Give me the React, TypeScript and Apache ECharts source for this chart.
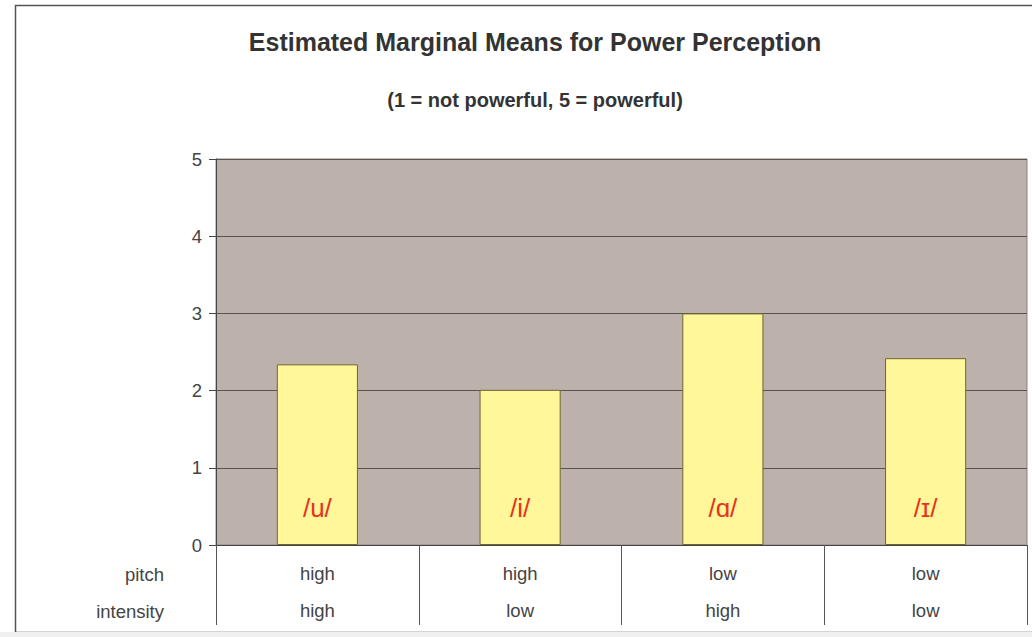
import React, { useEffect, useRef } from "react";
import * as echarts from "echarts";

const titleText = "Estimated Marginal Means for Power Perception";
const subtitleText = "(1 = not powerful, 5 = powerful)";
const vowels = ["/u/", "/i/", "/ɑ/", "/ɪ/"];
const meanValues = [2.34, 2.01, 3.0, 2.42];
const pitchRow = ["high", "high", "low", "low"];
const intensityRow = ["high", "low", "high", "low"];
const rowNames = ["pitch", "intensity"];
const yTicks = { min: 0, max: 5, interval: 1 };

const FONT = "'Liberation Sans', Arial, Helvetica, sans-serif";

export default function App() {
  const ref = useRef<HTMLDivElement>(null);
  useEffect(() => {
    if (!ref.current) return;
    const chart = echarts.init(ref.current, null, { renderer: "svg" });
    const gridLeft = 216;
    const gridTop = 159;
    const gridW = 811;
    const gridH = 386;
    chart.setOption({
      animation: false,
      backgroundColor: "#ffffff",
      textStyle: { fontFamily: FONT },
      grid: {
        left: gridLeft,
        top: gridTop,
        width: gridW,
        height: gridH,
        show: true,
        backgroundColor: "#bdb2ab",
        borderColor: "#8a8480",
        borderWidth: 1,
      },
      xAxis: {
        type: "category",
        data: vowels,
        boundaryGap: true,
        axisLine: { show: true, lineStyle: { color: "#444", width: 1 } },
        axisTick: { show: true, length: 80, lineStyle: { color: "#555", width: 1 } },
        axisLabel: {
          margin: 10,
          fontSize: 18.5,
          lineHeight: 37,
          color: "#444",
          fontFamily: FONT,
          formatter: (_v: string, i: number) => `${pitchRow[i]}\n${intensityRow[i]}`,
        },
        splitLine: { show: false },
      },
      yAxis: {
        type: "value",
        min: yTicks.min,
        max: yTicks.max,
        interval: yTicks.interval,
        axisLine: { show: true, lineStyle: { color: "#444", width: 1 } },
        axisTick: { show: true, length: 7, lineStyle: { color: "#444" } },
        axisLabel: { margin: 14, fontSize: 18.5, color: "#444", fontFamily: FONT },
        splitLine: { show: true, lineStyle: { color: "#5a5450", width: 1 } },
      },
      series: [
        {
          type: "bar",
          data: meanValues,
          barWidth: "40%",
          itemStyle: { color: "#fff799", borderColor: "#6e6636", borderWidth: 1 },
          label: {
            show: true,
            position: "insideBottom",
            distance: 24,
            fontSize: 26,
            color: "#e8321e",
            fontFamily: FONT,
            formatter: (p: any) => vowels[p.dataIndex],
          },
        },
      ],
      graphic: [
        {
          type: "rect",
          shape: { x: 15.5, y: 5.5, width: 1100, height: 627 },
          style: { fill: "none", stroke: "#555", lineWidth: 1.5 },
          silent: true,
        },
        {
          type: "rect",
          shape: { x: 0, y: 632, width: 1032, height: 5 },
          style: { fill: "#f0f0f0" },
          silent: true,
        },
        {
          type: "text",
          x: 535,
          y: 42,
          style: {
            text: titleText,
            fontSize: 25,
            fontWeight: "bold",
            fill: "#333",
            fontFamily: FONT,
            textAlign: "center",
            textVerticalAlign: "middle",
          },
        },
        {
          type: "text",
          x: 535,
          y: 100,
          style: {
            text: subtitleText,
            fontSize: 20,
            fontWeight: "bold",
            fill: "#333",
            fontFamily: FONT,
            textAlign: "center",
            textVerticalAlign: "middle",
          },
        },
        {
          type: "text",
          x: 164,
          y: 574,
          style: {
            text: rowNames[0],
            fontSize: 18.5,
            fill: "#444",
            fontFamily: FONT,
            textAlign: "right",
            textVerticalAlign: "middle",
          },
        },
        {
          type: "text",
          x: 164,
          y: 611,
          style: {
            text: rowNames[1],
            fontSize: 18.5,
            fill: "#444",
            fontFamily: FONT,
            textAlign: "right",
            textVerticalAlign: "middle",
          },
        },
      ],
    });
    return () => chart.dispose();
  }, []);
  return (
    <div
      ref={ref}
      style={{ position: "fixed", left: 0, top: 0, width: 1032, height: 637 }}
    />
  );
}
